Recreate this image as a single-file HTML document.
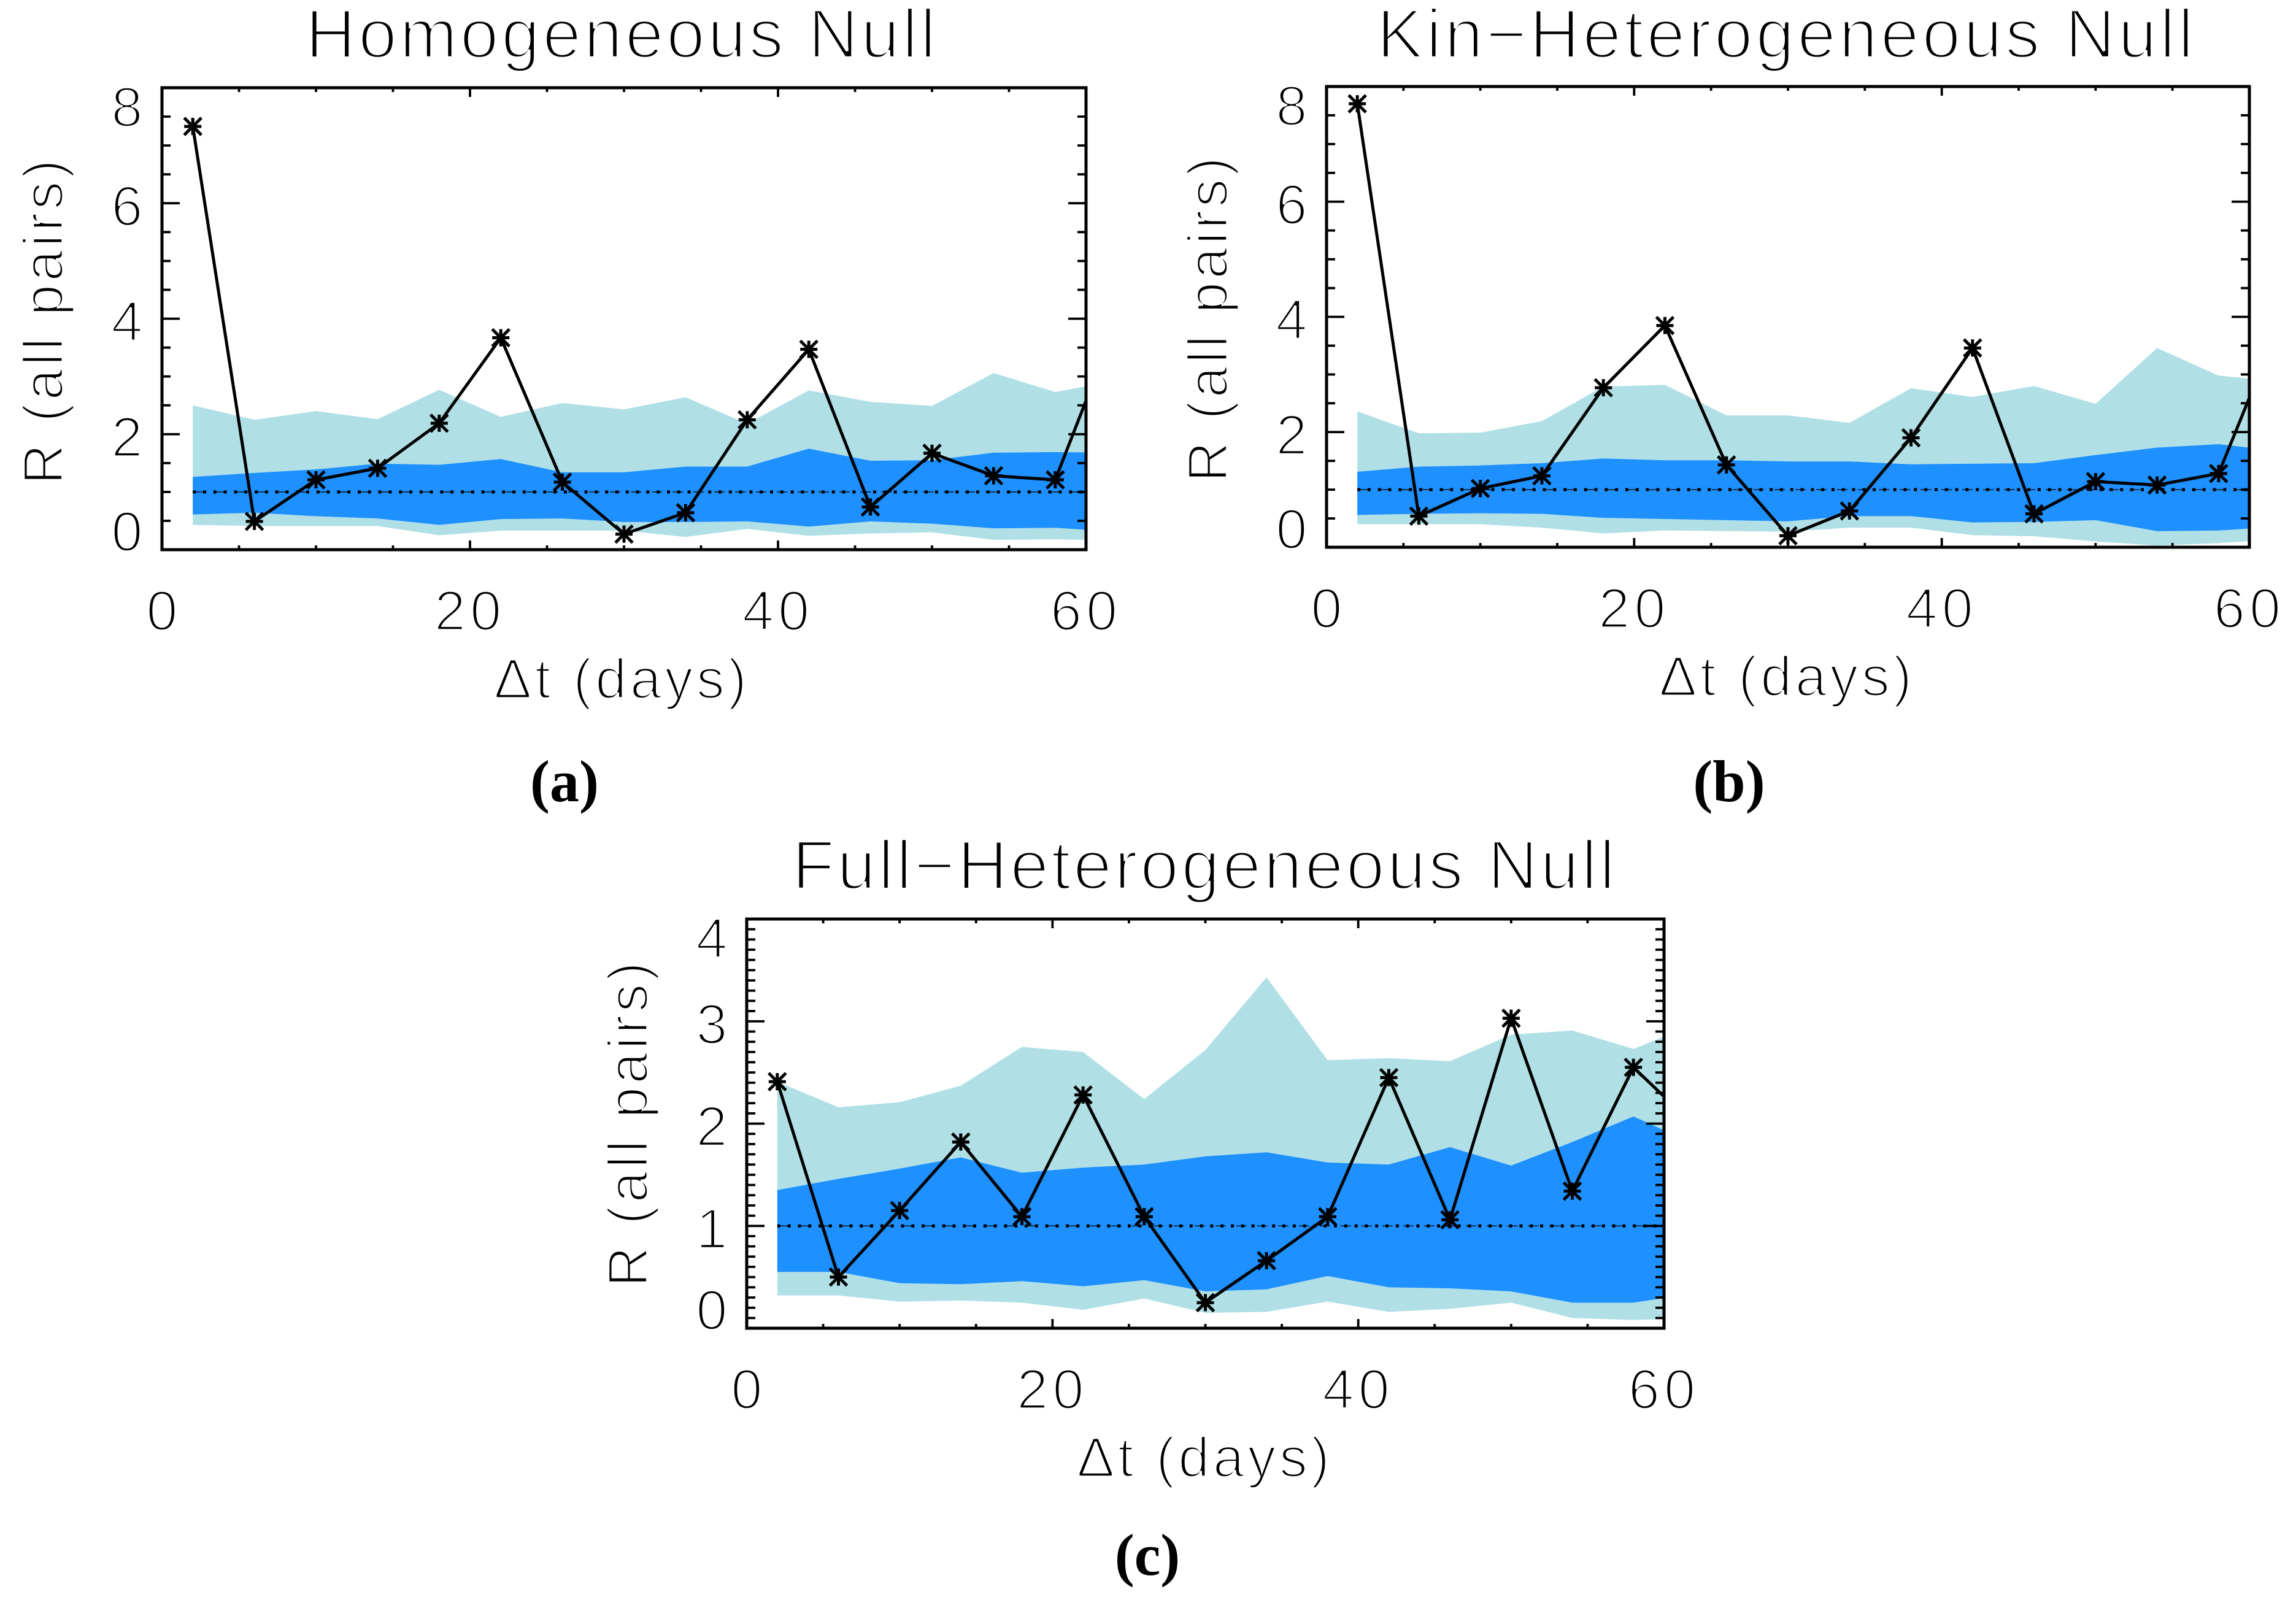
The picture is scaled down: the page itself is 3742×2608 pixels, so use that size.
<!DOCTYPE html>
<html lang="en">
<head>
<meta charset="utf-8">
<title>R versus time lag against three null models</title>
<style>
  html, body { margin: 0; padding: 0; background: #fff; }
  svg { display: block; }
  text { font-family: "Liberation Sans", sans-serif; fill: #000; }
  .thin { stroke: #fff; stroke-width: 3.6px; }
  .thin-title { stroke: #fff; stroke-width: 4.4px; }
  .caption { font-family: "Liberation Serif", serif; font-weight: bold; font-size: 96px; }
</style>
</head>
<body>
<svg id="figure" xmlns="http://www.w3.org/2000/svg" width="3742" height="2608" viewBox="0 0 3742 2608">
  <rect width="3742" height="2608" fill="#fff"/>

  <text class="thin-title" x="498" y="94" font-size="113" textLength="1027" lengthAdjust="spacing">Homogeneous Null</text>
  <text class="thin" x="805" y="1138" font-size="92" textLength="412" lengthAdjust="spacing">Δt (days)</text>
  <text class="thin" transform="translate(102,790) rotate(-90)" font-size="92" textLength="530" lengthAdjust="spacing">R (all pairs)</text>
  <text class="caption" x="920" y="1306" text-anchor="middle">(a)</text>

  <text class="thin-title" x="2244" y="94" font-size="113" textLength="1331" lengthAdjust="spacing">Kin−Heterogeneous Null</text>
  <text class="thin" x="2704" y="1134" font-size="92" textLength="412" lengthAdjust="spacing">Δt (days)</text>
  <text class="thin" transform="translate(2000,786) rotate(-90)" font-size="92" textLength="530" lengthAdjust="spacing">R (all pairs)</text>
  <text class="caption" x="2818" y="1306" text-anchor="middle">(b)</text>

  <text class="thin-title" x="1291" y="1449" font-size="113" textLength="1341" lengthAdjust="spacing">Full−Heterogeneous Null</text>
  <text class="thin" x="1755" y="2407" font-size="92" textLength="412" lengthAdjust="spacing">Δt (days)</text>
  <text class="thin" transform="translate(1055,2098) rotate(-90)" font-size="92" textLength="530" lengthAdjust="spacing">R (all pairs)</text>
  <text class="caption" x="1870" y="2567" text-anchor="middle">(c)</text>
</svg>

<script>
// Shared x values (days); the last sample lies beyond the axis and is clipped.
const lagDays = [2, 6, 10, 14, 18, 22, 26, 30, 34, 38, 42, 46, 50, 54, 58, 62];
const xTickLabels = [0, 20, 40, 60];
const referenceLevel = 1;

// Panel (a): Homogeneous Null
const homogeneousObserved = [7.33, 0.49, 1.21, 1.41, 2.19, 3.67, 1.17, 0.27, 0.64, 2.25, 3.47, 0.74, 1.67, 1.28, 1.21, 3.95];
const homogeneousOuterHigh = [2.50, 2.25, 2.40, 2.26, 2.77, 2.30, 2.54, 2.43, 2.64, 2.18, 2.76, 2.56, 2.49, 3.06, 2.73, 2.93];
const homogeneousInnerHigh = [1.26, 1.33, 1.39, 1.49, 1.47, 1.57, 1.34, 1.34, 1.44, 1.44, 1.75, 1.54, 1.55, 1.68, 1.69, 1.68];
const homogeneousInnerLow = [0.61, 0.64, 0.58, 0.54, 0.43, 0.53, 0.54, 0.48, 0.48, 0.49, 0.40, 0.49, 0.45, 0.37, 0.38, 0.31];
const homogeneousOuterLow = [0.43, 0.41, 0.41, 0.41, 0.25, 0.33, 0.33, 0.33, 0.22, 0.36, 0.24, 0.28, 0.30, 0.17, 0.18, 0.16];
const homogeneousYTicks = [0, 2, 4, 6, 8];

// Panel (b): Kin-Heterogeneous Null
const kinObserved = [7.70, 0.54, 1.02, 1.24, 2.77, 3.85, 1.43, 0.20, 0.63, 1.90, 3.46, 0.58, 1.14, 1.08, 1.28, 3.91];
const kinOuterHigh = [2.36, 1.98, 1.99, 2.19, 2.79, 2.82, 2.29, 2.29, 2.16, 2.76, 2.61, 2.80, 2.49, 3.46, 2.98, 2.88];
const kinInnerHigh = [1.31, 1.40, 1.42, 1.46, 1.54, 1.51, 1.51, 1.49, 1.49, 1.44, 1.45, 1.46, 1.60, 1.73, 1.79, 1.67];
const kinInnerLow = [0.56, 0.58, 0.59, 0.58, 0.51, 0.49, 0.47, 0.45, 0.54, 0.54, 0.43, 0.44, 0.47, 0.28, 0.29, 0.36];
const kinOuterLow = [0.40, 0.40, 0.40, 0.34, 0.24, 0.29, 0.28, 0.27, 0.34, 0.34, 0.21, 0.19, 0.10, 0.03, 0.07, 0.14];
const kinYTicks = [0, 2, 4, 6, 8];

// Panel (c): Full-Heterogeneous Null
const fullObserved = [2.41, 0.50, 1.15, 1.82, 1.09, 2.28, 1.09, 0.25, 0.66, 1.09, 2.45, 1.06, 3.03, 1.34, 2.55, 1.98];
const fullOuterHigh = [2.41, 2.16, 2.21, 2.37, 2.75, 2.70, 2.24, 2.72, 3.43, 2.62, 2.64, 2.61, 2.87, 2.91, 2.73, 2.97];
const fullInnerHigh = [1.35, 1.46, 1.56, 1.67, 1.52, 1.57, 1.60, 1.68, 1.72, 1.62, 1.60, 1.77, 1.59, 1.82, 2.07, 1.80];
const fullInnerLow = [0.55, 0.55, 0.44, 0.43, 0.46, 0.41, 0.47, 0.36, 0.38, 0.51, 0.40, 0.39, 0.36, 0.25, 0.25, 0.34];
const fullOuterLow = [0.32, 0.32, 0.26, 0.27, 0.25, 0.18, 0.29, 0.15, 0.16, 0.26, 0.16, 0.19, 0.25, 0.10, 0.08, 0.10];
const fullYTicks = [0, 1, 2, 3, 4];

const panels = [
  { id: 'a', left: 264, right: 1770, top: 143, bottom: 896, yMax: 8, yMinorStep: 0.5,
    ticks: homogeneousYTicks, observed: homogeneousObserved, outerHigh: homogeneousOuterHigh,
    innerHigh: homogeneousInnerHigh, innerLow: homogeneousInnerLow, outerLow: homogeneousOuterLow },
  { id: 'b', left: 2162, right: 3666, top: 141, bottom: 892, yMax: 8, yMinorStep: 0.5,
    ticks: kinYTicks, observed: kinObserved, outerHigh: kinOuterHigh,
    innerHigh: kinInnerHigh, innerLow: kinInnerLow, outerLow: kinOuterLow },
  { id: 'c', left: 1217, right: 2712, top: 1498, bottom: 2165, yMax: 4, yMinorStep: 0.1,
    ticks: fullYTicks, observed: fullObserved, outerHigh: fullOuterHigh,
    innerHigh: fullInnerHigh, innerLow: fullInnerLow, outerLow: fullOuterLow }
];

const NS = 'http://www.w3.org/2000/svg';
const figure = document.getElementById('figure');

function make(tag, parent) {
  const el = document.createElementNS(NS, tag);
  parent.appendChild(el);
  return el;
}

function drawSegment(parent, x1, y1, x2, y2, width) {
  const seg = make('line', parent);
  seg.setAttribute('x1', x1);
  seg.setAttribute('y1', y1);
  seg.setAttribute('x2', x2);
  seg.setAttribute('y2', y2);
  seg.setAttribute('stroke', '#000');
  seg.setAttribute('stroke-width', width);
  return seg;
}

function bandPath(xScale, yScale, high, low) {
  const upper = lagDays.map((d, i) => xScale(d) + ',' + yScale(high[i]));
  const lower = lagDays.map((d, i) => xScale(d) + ',' + yScale(low[i])).reverse();
  return upper.concat(lower).join(' ');
}

panels.forEach(function (p) {
  const xScale = d => p.left + (d / 60) * (p.right - p.left);
  const yScale = v => p.bottom - (v / p.yMax) * (p.bottom - p.top);

  const clip = make('clipPath', figure);
  clip.setAttribute('id', 'clip-' + p.id);
  const clipRect = make('rect', clip);
  clipRect.setAttribute('x', p.left);
  clipRect.setAttribute('y', p.top);
  clipRect.setAttribute('width', p.right - p.left);
  clipRect.setAttribute('height', p.bottom - p.top);

  const plot = make('g', figure);
  
  
  plot.setAttribute('clip-path', 'url(#clip-' + p.id + ')');

  const outerBand = make('polygon', plot);
  
  
  outerBand.setAttribute('points', bandPath(xScale, yScale, p.outerHigh, p.outerLow));
  outerBand.setAttribute('fill', '#B0E0E6');

  const innerBand = make('polygon', plot);
  
  
  innerBand.setAttribute('points', bandPath(xScale, yScale, p.innerHigh, p.innerLow));
  innerBand.setAttribute('fill', '#1E90FF');

  const refThin = drawSegment(plot, xScale(lagDays[0]), yScale(referenceLevel), p.right, yScale(referenceLevel), 1.2);
  
  
  refThin.setAttribute('stroke-dasharray', '17 17');

  const refDots = drawSegment(plot, xScale(lagDays[0]), yScale(referenceLevel), p.right, yScale(referenceLevel), 5);
  
  
  refDots.setAttribute('stroke-dasharray', '5 11.8');

  const series = make('polyline', plot);
  
  
  series.setAttribute('points', lagDays.map((d, i) => xScale(d) + ',' + yScale(p.observed[i])).join(' '));
  series.setAttribute('fill', 'none');
  series.setAttribute('stroke', '#000');
  series.setAttribute('stroke-width', 5);

  lagDays.forEach(function (d, i) {
    const cx = xScale(d);
    const cy = yScale(p.observed[i]);
    const marker = make('g', plot);
    
    
    drawSegment(marker, cx - 14, cy, cx + 14, cy, 5);
    drawSegment(marker, cx, cy - 14, cx, cy + 14, 5);
    drawSegment(marker, cx - 14, cy - 14, cx + 14, cy + 14, 5);
    drawSegment(marker, cx - 14, cy + 14, cx + 14, cy - 14, 5);
  });

  const axes = make('g', figure);
  
  

  const frame = make('rect', axes);
  
  
  frame.setAttribute('x', p.left);
  frame.setAttribute('y', p.top);
  frame.setAttribute('width', p.right - p.left);
  frame.setAttribute('height', p.bottom - p.top);
  frame.setAttribute('fill', 'none');
  frame.setAttribute('stroke', '#000');
  frame.setAttribute('stroke-width', 5);

  for (let d = 5; d < 60; d += 5) {
    const isMajor = xTickLabels.includes(d);
    const len = isMajor ? 15 : 7;
    const bottomTick = drawSegment(axes, xScale(d), p.bottom, xScale(d), p.bottom - len, 3.8);
    
    
    const topTick = drawSegment(axes, xScale(d), p.top, xScale(d), p.top + len, 3.8);
    
    
  }

  const minorCount = Math.round(p.yMax / p.yMinorStep);
  for (let k = 1; k < minorCount; k++) {
    const v = k * p.yMinorStep;
    const isMajor = p.ticks.some(t => Math.abs(t - v) < 1e-6);
    const len = isMajor ? 29 : 14;
    const leftTick = drawSegment(axes, p.left, yScale(v), p.left + len, yScale(v), 3.8);
    
    
    const rightTick = drawSegment(axes, p.right, yScale(v), p.right - len, yScale(v), 3.8);
    
    
  }

  xTickLabels.forEach(function (t) {
    const label = make('text', axes);
    
    
    label.setAttribute('class', 'thin');
    label.setAttribute('x', xScale(t));
    label.setAttribute('y', p.bottom + 131);
    label.setAttribute('font-size', 92);
    label.setAttribute('text-anchor', 'middle');
    if (t >= 10) label.setAttribute('letter-spacing', '7');
    label.textContent = t;
  });

  p.ticks.forEach(function (t) {
    const label = make('text', axes);
    
    
    label.setAttribute('class', 'thin');
    label.setAttribute('x', p.left - 57);
    let base = yScale(t) + 36;
    if (t === p.yMax) base = p.top + 63;
    if (t === 0) base = p.bottom + 2;
    label.setAttribute('y', base);
    label.setAttribute('font-size', 92);
    label.setAttribute('text-anchor', 'middle');
    label.textContent = t;
  });
});
</script>
</body>
</html>
